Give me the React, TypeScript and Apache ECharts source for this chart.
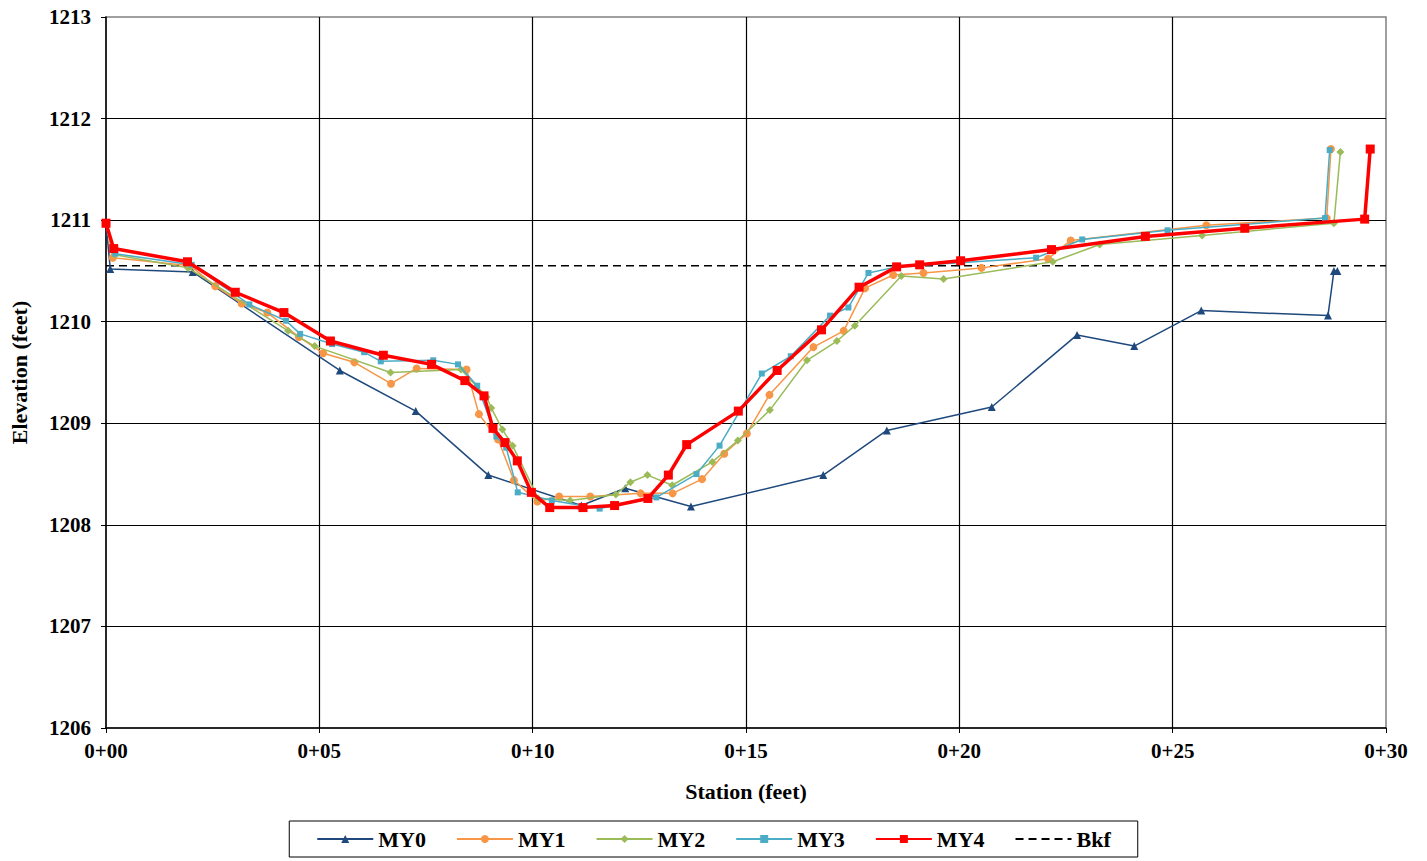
import React, { useEffect, useRef } from "react";
import * as echarts from "echarts";

const stationTicks = [0, 5, 10, 15, 20, 25, 30];
const bkfElevation = 1210.55;

const my0Station = [0, 0.1, 2.03, 5.48, 7.26, 8.96, 11.14, 12.17, 13.71, 16.81, 18.3, 20.76, 22.76, 24.1, 25.67, 28.64, 28.78, 28.86];
const my0Elev = [1210.97, 1210.52, 1210.49, 1209.52, 1209.12, 1208.49, 1208.19, 1208.36, 1208.18, 1208.49, 1208.93, 1209.16, 1209.87, 1209.76, 1210.11, 1210.06, 1210.5, 1210.5];

const my1Station = [0, 0.16, 1.98, 2.56, 3.18, 3.78, 4.52, 5.09, 5.82, 6.68, 7.28, 8.45, 8.74, 9.19, 9.56, 10.11, 10.62, 11.35, 12.53, 13.28, 13.97, 14.49, 15.02, 15.55, 16.58, 17.29, 17.79, 18.45, 19.16, 20.52, 22.08, 22.61, 25.79, 28.61, 28.71];
const my1Elev = [1210.97, 1210.63, 1210.55, 1210.35, 1210.18, 1210.09, 1209.85, 1209.69, 1209.6, 1209.39, 1209.54, 1209.53, 1209.09, 1208.84, 1208.44, 1208.23, 1208.28, 1208.28, 1208.31, 1208.31, 1208.45, 1208.7, 1208.9, 1209.28, 1209.75, 1209.91, 1210.33, 1210.46, 1210.48, 1210.53, 1210.62, 1210.8, 1210.95, 1211.02, 1211.7];

const my2Station = [0, 0.21, 1.92, 4.27, 4.89, 6.67, 8.32, 8.92, 9.03, 9.29, 9.53, 10.13, 10.88, 11.95, 12.29, 12.69, 13.27, 14.21, 14.81, 15.56, 16.43, 17.13, 17.55, 18.64, 19.63, 22.19, 23.29, 25.69, 28.78, 28.93];
const my2Elev = [1210.97, 1210.66, 1210.53, 1209.91, 1209.76, 1209.5, 1209.53, 1209.26, 1209.15, 1208.94, 1208.78, 1208.26, 1208.24, 1208.3, 1208.42, 1208.49, 1208.39, 1208.62, 1208.83, 1209.13, 1209.62, 1209.81, 1209.96, 1210.45, 1210.42, 1210.59, 1210.76, 1210.85, 1210.97, 1211.67];

const my3Station = [0, 0.22, 2.01, 3.36, 4.22, 4.55, 5.3, 6.05, 6.44, 7.67, 8.25, 8.7, 9.15, 9.38, 9.65, 10.45, 11.57, 12.9, 13.84, 14.38, 15.37, 16.05, 16.97, 17.4, 17.87, 18.53, 21.8, 22.88, 24.88, 28.57, 28.68];
const my3Elev = [1210.97, 1210.67, 1210.56, 1210.17, 1210.01, 1209.88, 1209.78, 1209.7, 1209.61, 1209.62, 1209.58, 1209.37, 1208.87, 1208.76, 1208.32, 1208.24, 1208.16, 1208.27, 1208.5, 1208.78, 1209.49, 1209.66, 1210.06, 1210.14, 1210.48, 1210.54, 1210.63, 1210.81, 1210.9, 1211.02, 1211.69];

const my4Station = [0, 0.18, 1.91, 3.03, 4.17, 5.26, 6.5, 7.63, 8.41, 8.86, 9.07, 9.35, 9.64, 9.97, 10.4, 11.18, 11.92, 12.7, 13.18, 13.61, 14.82, 15.73, 16.77, 17.65, 18.53, 19.07, 20.03, 22.16, 24.36, 26.69, 29.5, 29.63];
const my4Elev = [1210.97, 1210.72, 1210.59, 1210.29, 1210.09, 1209.81, 1209.67, 1209.58, 1209.42, 1209.27, 1208.95, 1208.81, 1208.63, 1208.32, 1208.17, 1208.17, 1208.19, 1208.26, 1208.49, 1208.79, 1209.12, 1209.52, 1209.92, 1210.34, 1210.54, 1210.56, 1210.6, 1210.71, 1210.84, 1210.92, 1211.01, 1211.7];

const zip = (xs: number[], ys: number[]) => xs.map((x, i) => [x, ys[i]]);

const FONT = "'Liberation Serif', 'Times New Roman', serif";

export default function App() {
  const ref = useRef<HTMLDivElement>(null);
  useEffect(() => {
    document.body.style.margin = "0";
    document.body.style.overflow = "hidden";
    if (!ref.current) return;
    const chart = echarts.init(ref.current, undefined, { renderer: "svg" });
    const lineSeries = (name: string, data: number[][], color: string, symbol: string, size: number, width: number, z: number) => ({
      name,
      type: "line",
      data,
      symbol,
      symbolSize: size,
      showAllSymbol: true,
      z,
      lineStyle: { color, width },
      itemStyle: { color },
    });
    chart.setOption({
      animation: false,
      backgroundColor: "#ffffff",
      grid: {
        left: 101,
        right: 41,
        top: 17,
        bottom: 133,
        show: true,
        borderColor: "#808080",
        borderWidth: 1.5,
      },
      xAxis: {
        type: "value",
        min: stationTicks[0],
        max: stationTicks[stationTicks.length - 1],
        interval: 5,
        name: "Station (feet)",
        nameLocation: "middle",
        nameGap: 52,
        nameTextStyle: { fontFamily: FONT, fontWeight: "bold", fontSize: 22, color: "#000" },
        axisLine: { show: true, lineStyle: { color: "#000", width: 1.5 } },
        axisTick: { show: true, length: 5, lineStyle: { color: "#000" } },
        axisLabel: {
          fontFamily: FONT,
          fontWeight: "bold",
          fontSize: 21,
          color: "#000",
          margin: 12,
          formatter: (v: number) => "0+" + String(v).padStart(2, "0"),
        },
        splitLine: { show: true, showMinLine: false, showMaxLine: false, lineStyle: { color: "#000", width: 1.2 } },
      },
      yAxis: {
        type: "value",
        min: 1206,
        max: 1213,
        interval: 1,
        name: "Elevation (feet)",
        nameLocation: "middle",
        nameGap: 76,
        nameRotate: 90,
        nameTextStyle: { fontFamily: FONT, fontWeight: "bold", fontSize: 22, color: "#000" },
        axisLine: { show: true, lineStyle: { color: "#000", width: 1.5 } },
        axisTick: { show: true, length: 5, lineStyle: { color: "#000" } },
        axisLabel: {
          fontFamily: FONT,
          fontWeight: "bold",
          fontSize: 21,
          color: "#000",
          margin: 15,
          formatter: (v: number) => String(v),
        },
        splitLine: { show: true, showMinLine: false, showMaxLine: false, lineStyle: { color: "#000", width: 1.2 } },
      },
      legend: {
        data: [
          "MY0",
          "MY1",
          "MY2",
          "MY3",
          "MY4",
          { name: "Bkf", itemStyle: { opacity: 0 } },
        ],
        left: "center",
        top: 821,
        padding: [7, 27, 7, 27],
        itemGap: 30,
        itemWidth: 56,
        itemHeight: 10,
        borderColor: "#000",
        borderWidth: 1,
        textStyle: { fontFamily: FONT, fontWeight: "bold", fontSize: 22, color: "#000" },
      },
      series: [
        {
          name: "Bkf",
          type: "line",
          data: [[stationTicks[0], bkfElevation], [stationTicks[stationTicks.length - 1], bkfElevation]],
          symbol: "none",
          z: 1,
          lineStyle: { color: "#000", width: 1.5, type: [8, 5] },
          itemStyle: { color: "#000" },
        },
        lineSeries("MY0", zip(my0Station, my0Elev), "#1F497D", "triangle", 8, 1.5, 2),
        lineSeries("MY1", zip(my1Station, my1Elev), "#F79646", "circle", 8, 1.5, 3),
        lineSeries("MY2", zip(my2Station, my2Elev), "#9BBB59", "diamond", 8, 1.5, 4),
        lineSeries("MY3", zip(my3Station, my3Elev), "#4BACC6", "rect", 6, 1.5, 5),
        lineSeries("MY4", zip(my4Station, my4Elev), "#FF0000", "rect", 9, 3.5, 6),
      ],
    });
    return () => chart.dispose();
  }, []);
  return <div ref={ref} style={{ width: 1427, height: 861 }} />;
}
